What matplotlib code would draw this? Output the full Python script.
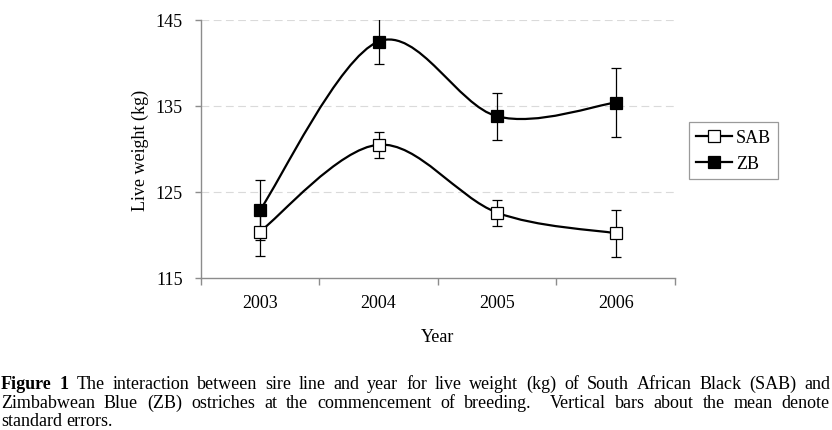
import matplotlib
matplotlib.use('Agg')
import matplotlib.pyplot as plt
from matplotlib.path import Path
from matplotlib.patches import PathPatch
from matplotlib.lines import Line2D
import numpy as np

# ---------------- data ----------------
years = ['2003', '2004', '2005', '2006']
sab_mean = [120.4, 130.5, 122.6, 120.2]
sab_se = [2.8, 1.5, 1.5, 2.7]
zb_mean = [122.9, 142.5, 133.8, 135.4]
zb_se = [3.5, 2.6, 2.75, 4.0]
y_ticks = [115, 125, 135, 145]
caption_lines = [
    "Figure 1 The interaction between sire line and year for live weight (kg) of South African Black (SAB) and",
    "Zimbabwean Blue (ZB) ostriches at the commencement of breeding.  Vertical bars about the mean denote",
    "standard errors.",
]

plt.rcParams['font.family'] = ['Liberation Serif', 'DejaVu Serif']
W, H = 832, 431
fig = plt.figure(figsize=(W / 100, H / 100), dpi=100)

def fx(px):
    return px / W

def fy(py):
    return 1 - py / H

ax_l, ax_r, ax_t, ax_b = 200.7, 675.0, 21.0, 279.0
ax = fig.add_axes([fx(ax_l), fy(ax_b), fx(ax_r - ax_l), (ax_b - ax_t) / H])

xs = np.arange(len(years))
ax.set_xlim(-0.5, len(years) - 0.5)
ax.set_ylim(115, 145)


def smooth_path(xv, yv):
    pts = np.column_stack([xv, yv]).astype(float)
    n = len(pts)
    verts = [pts[0]]
    codes = [Path.MOVETO]
    for i in range(n - 1):
        p0 = pts[i - 1] if i > 0 else pts[i]
        p1 = pts[i]
        p2 = pts[i + 1]
        p3 = pts[i + 2] if i + 2 < n else pts[i + 1]
        c1 = p1 + (p2 - p0) / 6.0
        c2 = p2 - (p3 - p1) / 6.0
        verts += [c1, c2, p2]
        codes += [Path.CURVE4] * 3
    return Path(verts, codes)

# gridlines
for yv in y_ticks[1:]:
    ax.axhline(yv, color='#dadada', lw=0.8, ls=(0, (7, 4)), zorder=0)

FS = 13
series = [(sab_mean, sab_se, 'white', 'SAB'), (zb_mean, zb_se, 'black', 'ZB')]
handles = []
for mean, se, fc, lab in series:
    ax.add_patch(PathPatch(smooth_path(xs, mean), fill=False, ec='black', lw=1.6, zorder=2))
    ax.errorbar(xs, mean, yerr=se, fmt='none', ecolor='black', elinewidth=0.9,
                capsize=3.8, capthick=0.9, zorder=3)
    ax.plot(xs, mean, ls='none', marker='s', ms=8, mfc=fc, mec='black', mew=0.9, zorder=4)
    handles.append(Line2D([], [], color='black', lw=1.6, marker='s', ms=8, mfc=fc,
                          mec='black', mew=0.9, label=lab))

for s in ['top', 'right']:
    ax.spines[s].set_visible(False)
for s in ['left', 'bottom']:
    ax.spines[s].set_color('#8c8c8c')
    ax.spines[s].set_linewidth(1.0)

ax.set_yticks(y_ticks)
ax.set_yticklabels([str(v) for v in y_ticks])
ax.tick_params(axis='y', direction='out', length=4, width=1, color='#8c8c8c',
               pad=9, labelsize=FS)
ax.set_xticks(xs)
ax.set_xticklabels(years)
ax.set_xticks(np.arange(len(years) + 1) - 0.5, minor=True)
ax.tick_params(axis='x', which='major', length=0, pad=11.5, labelsize=FS)
ax.tick_params(axis='x', which='minor', direction='out', length=5, width=1, color='#8c8c8c')

fig.text(fx(140), fy(150), 'Live weight (kg)', rotation=90, ha='center', va='center', fontsize=FS)
fig.text(fx(438), fy(337), 'Year', ha='center', va='center', fontsize=FS)

leg = fig.legend(handles=handles, loc='center left', bbox_to_anchor=(fx(689), fy(151.5)),
                 frameon=True, fancybox=False, edgecolor='#9a9a9a', framealpha=1,
                 fontsize=FS, handlelength=2.0, handletextpad=0.2, borderpad=0.4,
                 labelspacing=0.5, borderaxespad=0)
leg.get_frame().set_linewidth(0.9)

# ---------- justified caption ----------
renderer = fig.canvas.get_renderer()
cap_fs = 13
baselines = [389, 408, 426.5]
left_px, right_px = 1.0, 830.0
for li, (line, base) in enumerate(zip(caption_lines, baselines)):
    words = line.split(' ')
    items = []
    gaps = []
    pending_gap = 0
    for w in words:
        if w == '':
            pending_gap += 1
            continue
        if items:
            gaps.append(1 + pending_gap)
        pending_gap = 0
        bold = (li == 0 and len(items) < 2)
        t = fig.text(0, fy(base), w, fontsize=cap_fs, va='baseline', ha='left',
                     fontweight='bold' if bold else 'normal')
        items.append(t)
    widths = [t.get_window_extent(renderer).width for t in items]
    justify = li < len(caption_lines) - 1
    if justify:
        space_unit = (right_px - left_px - sum(widths)) / sum(gaps)
    else:
        space_unit = cap_fs * 100 / 72 * 0.25
    xcur = left_px
    for i, t in enumerate(items):
        t.set_x(fx(xcur))
        xcur += widths[i]
        if i < len(gaps):
            xcur += space_unit * gaps[i]

fig.savefig('out.png', dpi=100)
